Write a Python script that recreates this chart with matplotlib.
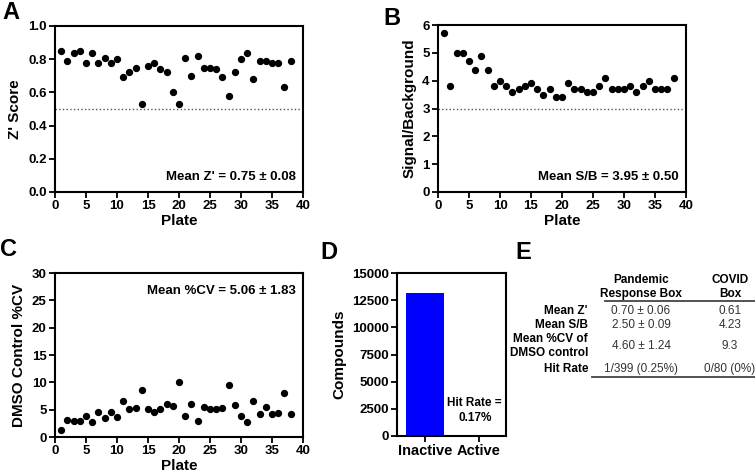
import matplotlib
matplotlib.use("Agg")
import matplotlib.pyplot as plt
import numpy as np

plt.rcParams['font.family'] = ['Liberation Sans', 'DejaVu Sans']
plt.rcParams['font.weight'] = 'bold'

plates = list(range(1, 39))
z_scores = [0.85, 0.79, 0.84, 0.85, 0.78, 0.84, 0.78, 0.81, 0.78, 0.80,
            0.69, 0.72, 0.75, 0.53, 0.76, 0.78, 0.74, 0.72, 0.60, 0.53,
            0.81, 0.70, 0.82, 0.75, 0.75, 0.74, 0.69, 0.58, 0.72, 0.80,
            0.84, 0.68, 0.79, 0.79, 0.78, 0.78, 0.63, 0.79]
sb_ratio = [5.7, 3.8, 5.0, 5.0, 4.7, 4.4, 4.9, 4.4, 3.8, 4.0,
            3.8, 3.6, 3.7, 3.8, 3.9, 3.7, 3.5, 3.7, 3.4, 3.4,
            3.9, 3.7, 3.7, 3.6, 3.6, 3.8, 4.1, 3.7, 3.7, 3.7,
            3.8, 3.6, 3.8, 4.0, 3.7, 3.7, 3.7, 4.1]
dmso_cv = [1.3, 3.2, 2.9, 3.0, 3.8, 2.7, 4.6, 3.4, 4.6, 3.7,
           6.5, 5.2, 5.3, 8.6, 5.1, 4.6, 5.2, 6.0, 5.6, 10.0,
           3.9, 6.0, 2.9, 5.5, 5.1, 5.2, 5.3, 9.5, 5.9, 3.8,
           2.7, 6.6, 4.2, 5.5, 4.2, 4.4, 8.0, 4.2]
bar_categories = ["Inactive", "Active"]
bar_counts = [13150, 22]
bar_colors = ["#0000FF", "#FF0000"]

table_cols = ["Pandemic\nResponse Box", "COVID\nBox"]
table_rows = ["Mean Z'", "Mean S/B", "Mean %CV of\nDMSO control", "Hit Rate"]
table_prb = ["0.70 \u00b1 0.06", "2.50 \u00b1 0.09", "4.60 \u00b1 1.24", "1/399 (0.25%)"]
table_covid = ["0.61", "4.23", "9.3", "0/80 (0%)"]

W, H = 755, 475
fig = plt.figure(figsize=(W / 100, H / 100), dpi=100)


def ax_px(left, top, right, bottom):
    return fig.add_axes([left / W, 1 - bottom / H, (right - left) / W, (bottom - top) / H])


def style(ax):
    for s in ax.spines.values():
        s.set_linewidth(1.5)
    ax.tick_params(width=1.3, length=4, labelsize=9.5, direction='out', pad=2)
    for lab in ax.get_xticklabels() + ax.get_yticklabels():
        lab.set_fontweight('bold')


# Panel A
axA = ax_px(55, 26, 303, 192)
axA.scatter(plates, z_scores, s=18, color='black', zorder=3)
axA.axhline(0.5, color='#555555', linestyle=':', linewidth=1)
axA.set_xlim(0, 40)
axA.set_ylim(0, 1.0)
axA.set_xticks(range(0, 41, 5))
axA.set_yticks(np.arange(0, 1.01, 0.2))
axA.set_yticklabels(['0.0', '0.2', '0.4', '0.6', '0.8', '1.0'])
axA.set_xlabel('Plate', fontsize=11, fontweight='bold', labelpad=1)
axA.set_ylabel("Z' Score", fontsize=11, fontweight='bold')
axA.text(0.97, 0.09, "Mean Z' = 0.75 \u00b1 0.08", transform=axA.transAxes,
         ha='right', va='center', fontsize=9.5, fontweight='bold')
style(axA)

# Panel B
axB = ax_px(438, 25, 686, 192)
axB.scatter(plates, sb_ratio, s=18, color='black', zorder=3)
axB.axhline(3, color='#555555', linestyle=':', linewidth=1)
axB.set_xlim(0, 40)
axB.set_ylim(0, 6)
axB.set_xticks(range(0, 41, 5))
axB.set_yticks(range(0, 7))
axB.set_xlabel('Plate', fontsize=11, fontweight='bold', labelpad=1)
axB.set_ylabel("Signal/Background", fontsize=11, fontweight='bold')
axB.text(0.97, 0.09, "Mean S/B = 3.95 \u00b1 0.50", transform=axB.transAxes,
         ha='right', va='center', fontsize=9.5, fontweight='bold')
style(axB)

# Panel C
axC = ax_px(55, 273, 303, 437)
axC.scatter(plates, dmso_cv, s=18, color='black', zorder=3)
axC.set_xlim(0, 40)
axC.set_ylim(0, 30)
axC.set_xticks(range(0, 41, 5))
axC.set_yticks(range(0, 31, 5))
axC.set_xlabel('Plate', fontsize=11, fontweight='bold', labelpad=1)
axC.set_ylabel("DMSO Control %CV", fontsize=11, fontweight='bold')
axC.text(0.97, 0.89, "Mean %CV = 5.06 \u00b1 1.83", transform=axC.transAxes,
         ha='right', va='center', fontsize=9.5, fontweight='bold')
style(axC)

# Panel D
axD = ax_px(397, 273, 506, 436)
xpos = np.arange(len(bar_categories))
axD.bar(xpos, bar_counts, width=0.7, color=bar_colors)
axD.set_xlim(-0.52, 1.5)
axD.set_ylim(0, 15000)
axD.set_yticks(range(0, 15001, 2500))
axD.set_xticks(xpos)
axD.set_xticklabels(bar_categories)
axD.set_ylabel("Compounds", fontsize=11, fontweight='bold')
axD.text(0.92, 2350, "Hit Rate =\n0.17%", ha='center', va='center',
         fontsize=8.5, fontweight='bold', linespacing=1.35)
style(axD)
axD.tick_params(axis='x', labelsize=10.5)

# Panel letters
for lab, x, y in [("A", 2, 1), ("B", 383, 7), ("C", 0, 238), ("D", 320, 241), ("E", 515, 241)]:
    fig.text(x / W, 1 - y / H, lab, fontsize=17, fontweight='bold', ha='left', va='top')

# Panel E table
col_x = [641, 730]
for cx, t in zip(col_x, table_cols):
    fig.text(cx / W, 1 - 287 / H, t, ha='center', va='center', fontsize=8.5,
             fontweight='bold', linespacing=1.2)
fig.add_artist(plt.Line2D([605 / W, 755 / W], [1 - 301 / H, 1 - 301 / H],
                          color='#444444', linewidth=1.3))
row_y = [311, 325, 346, 369]
for ry, rl, v1, v2 in zip(row_y, table_rows, table_prb, table_covid):
    fig.text(588 / W, 1 - ry / H, rl, ha='right', va='center', fontsize=8.5,
             fontweight='bold', linespacing=1.2)
    fig.text(col_x[0] / W, 1 - ry / H, v1, ha='center', va='center', fontsize=8.5,
             fontweight='normal', color='#333333')
    fig.text(col_x[1] / W, 1 - ry / H, v2, ha='center', va='center', fontsize=8.5,
             fontweight='normal', color='#333333')
fig.add_artist(plt.Line2D([592 / W, 755 / W], [1 - 377 / H, 1 - 377 / H],
                          color='#444444', linewidth=1.3))

fig.savefig("out.png", dpi=100)
